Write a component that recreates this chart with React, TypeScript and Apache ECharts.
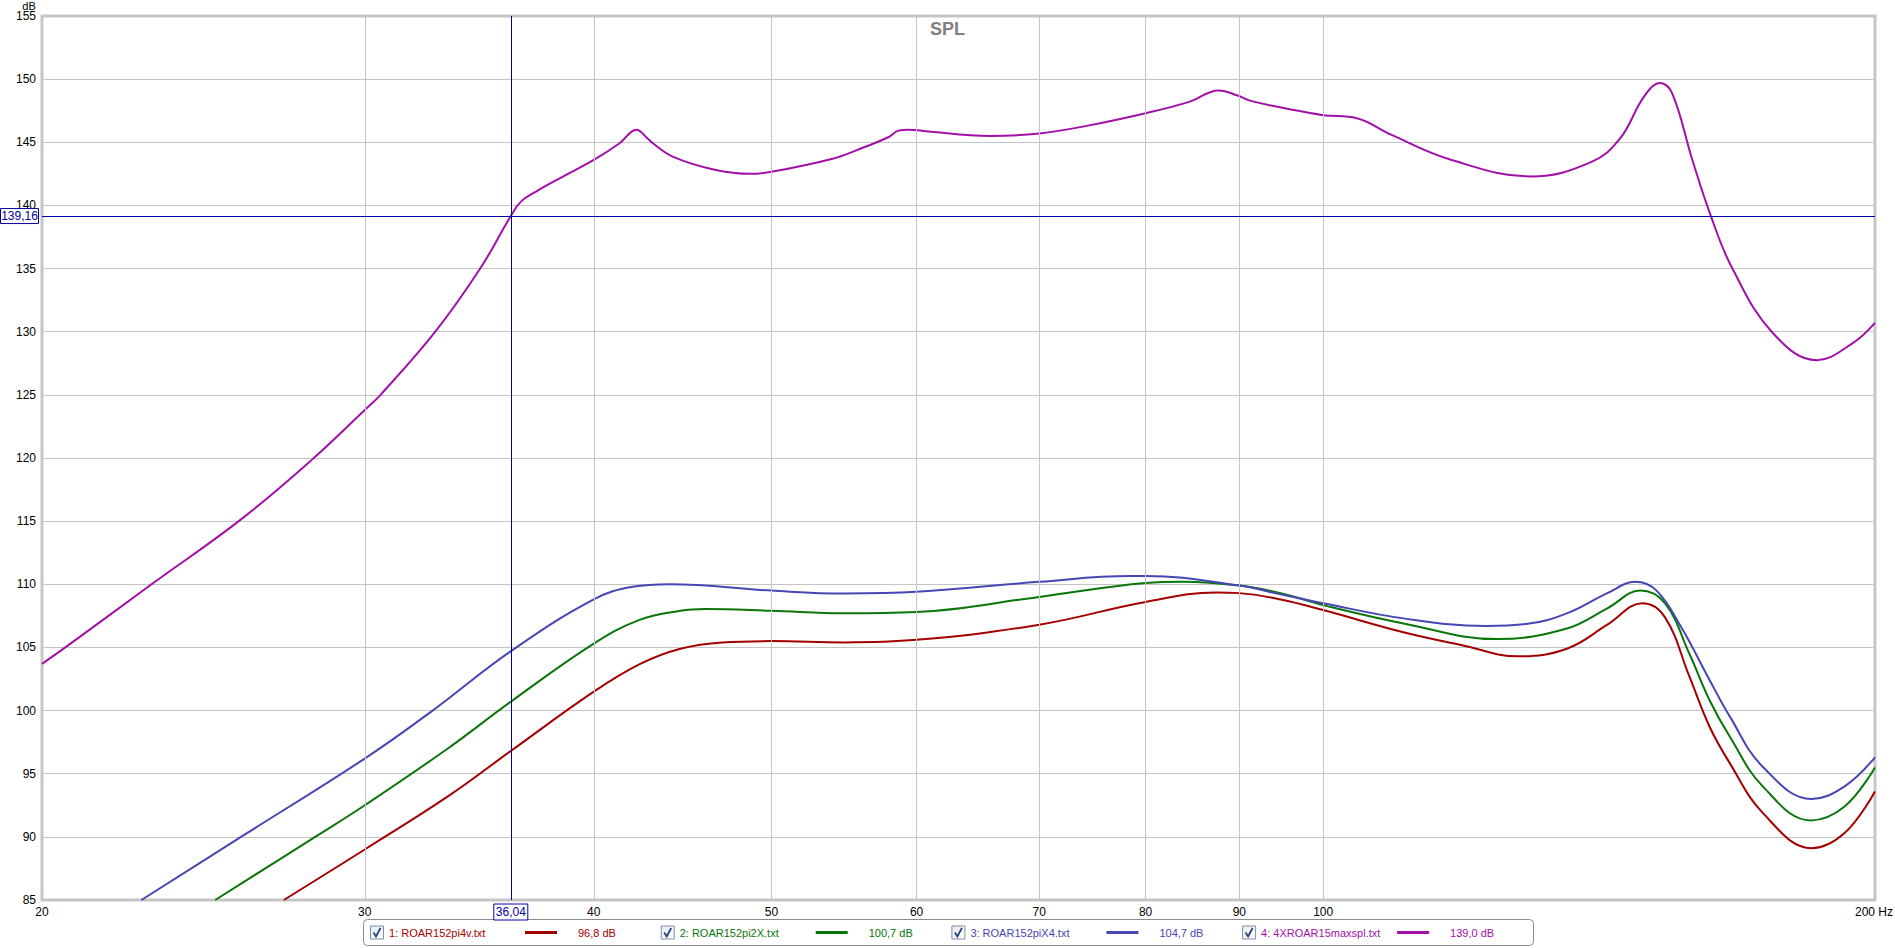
import React, { useEffect, useRef } from "react";
import * as echarts from "echarts";

// ---- data ----
const FREQ_RED = [27.1, 30, 33.3, 36.04, 40, 42.4, 44.6, 47, 50, 54.8, 60, 70, 80, 87.4, 90, 94.8, 100, 110.6, 118.9, 127.7, 135.8, 142.9, 149.3, 153.6, 158.4, 162.5, 166.7, 173.7, 184.7, 192.5, 200];
const SPL_RED = [85, 89.0, 93.2, 96.8, 101.5, 103.7, 104.9, 105.4, 105.5, 105.4, 105.6, 106.8, 108.6, 109.35, 109.3, 108.8, 107.96, 106.2, 105.2, 104.3, 104.9, 106.8, 108.5, 107.4, 102.7, 98.7, 95.8, 91.9, 89.1, 90.3, 93.6];

const FREQ_GREEN = [24.86, 28.3, 30, 33.3, 36.04, 40, 42.4, 44.6, 46.0, 50, 54.8, 60, 70, 80, 83.9, 90, 94.8, 100, 110.6, 124.5, 135.8, 142.9, 148.9, 153.6, 158.4, 162.5, 166.7, 173.7, 184.5, 192.5, 200];
const SPL_GREEN = [85, 90.15, 92.5, 97.0, 100.7, 105.3, 107.2, 107.9, 108.04, 107.9, 107.7, 107.8, 109.0, 110.1, 110.2, 109.9, 109.3, 108.35, 106.9, 105.66, 106.5, 108.1, 109.5, 108.5, 104.5, 100.8, 97.9, 94.0, 91.3, 92.4, 95.5];

const FREQ_BLUE = [22.66, 25.78, 30, 32.6, 36.04, 40, 42.0, 44.0, 50, 54.8, 60, 70, 78.5, 80, 90, 94.8, 100, 110.6, 122.6, 129.0, 135.8, 142.9, 148.0, 152.0, 156.8, 162.5, 166.7, 173.7, 184.7, 192.5, 200];
const SPL_BLUE = [85, 90.15, 96.2, 99.9, 104.7, 108.8, 109.8, 110.0, 109.5, 109.27, 109.4, 110.2, 110.65, 110.65, 109.9, 109.2, 108.5, 107.3, 106.7, 106.85, 107.7, 109.3, 110.2, 109.5, 106.6, 102.4, 99.5, 95.55, 93.0, 94.0, 96.3];

const FREQ_PURPLE = [20, 20.64, 23.0, 25.66, 28.14, 30, 30.6, 32.78, 34.68, 36.04, 36.5, 37.2, 38.5, 40, 41.3, 42.2, 42.8, 43.1, 44.2, 46.5, 48.7, 50, 54.0, 55.7, 57.9, 58.6, 59.4, 60.5, 65.8, 70, 74.3, 80, 84.5, 87.7, 89.8, 91.2, 96.0, 100, 104.3, 108.9, 117.5, 129.9, 140.1, 145.2, 149.6, 152.7, 155.0, 159.0, 162.7, 167.2, 175.9, 185.9, 194.5, 200];
const SPL_PURPLE = [103.7, 105.1, 110.1, 115.1, 120.0, 123.8, 125.0, 130.0, 135.0, 139.16, 140.3, 141.1, 142.3, 143.6, 144.9, 146.0, 145.3, 144.9, 143.85, 142.85, 142.5, 142.66, 143.7, 144.4, 145.4, 145.9, 146.0, 145.9, 145.5, 145.7, 146.3, 147.3, 148.2, 149.1, 148.7, 148.3, 147.6, 147.15, 146.9, 145.6, 143.6, 142.3, 143.45, 145.3, 148.6, 149.7, 148.9, 143.6, 139.2, 135.0, 129.9, 127.75, 129.1, 130.7];

const X_GRID = [30, 40, 50, 60, 70, 80, 90, 100];
const X_LABELS = [20, 30, 40, 50, 60, 70, 80, 90, 100, 200];
const CURSOR_F = 36.04;
const CURSOR_DB = 139.16;
const CURSOR_F_TEXT = "36,04";
const CURSOR_DB_TEXT = "139,16";

const LEGEND_NAMES = ["1: ROAR152pi4v.txt", "2: ROAR152pi2X.txt", "3: ROAR152piX4.txt", "4: 4XROAR15maxspl.txt"];
const LEGEND_VALUES = ["96,8 dB", "100,7 dB", "104,7 dB", "139,0 dB"];
const COLORS = ["#A40000", "#0A760A", "#4646B4", "#A210A8"];
const CURSOR_COLOR = "#0000A8";
const FONT = "'Liberation Sans', Arial, sans-serif";

function pairs(f: number[], v: number[]) {
  return f.map((x, i) => [x, v[i]]);
}

export default function App() {
  const ref = useRef<HTMLDivElement>(null);
  useEffect(() => {
    document.body.style.margin = "0";
    const chart = echarts.init(ref.current!, null, { renderer: "svg" });
    const curve = (name: string, data: number[][], color: string) => ({
      name,
      type: "line",
      data,
      showSymbol: false,
      symbol: "none",
      smooth: 0.4,
      z: 3,
      silent: true,
      lineStyle: { color, width: 2 },
      itemStyle: { color },
    });
    chart.setOption({
      animation: false,
      backgroundColor: "#ffffff",
      title: {
        text: "SPL",
        left: "center",
        top: 15,
        textStyle: { color: "#808080", fontSize: 18, fontWeight: "bold", fontFamily: FONT },
      },
      grid: {
        left: 42,
        right: 20,
        top: 16,
        bottom: 48,
        show: true,
        borderColor: "#C6C6C6",
        borderWidth: 3,
        backgroundColor: "#ffffff",
      },
      xAxis: {
        type: "log",
        logBase: 10,
        min: 20,
        max: 200,
        axisLine: { show: false },
        axisTick: { show: false },
        axisLabel: { show: false },
        splitLine: { show: false },
      },
      yAxis: {
        type: "value",
        min: 85,
        max: 155,
        interval: 5,
        axisLine: { show: false },
        axisTick: { show: false },
        axisLabel: { color: "#000", fontSize: 12, fontFamily: FONT, margin: 6 },
        splitLine: { lineStyle: { color: "#C4C4C4", width: 1 } },
      },
      series: [
        {
          name: "gridX",
          type: "line",
          data: [[20, 85]],
          showSymbol: false,
          symbol: "none",
          silent: true,
          z: 1,
          markLine: {
            silent: true,
            symbol: ["none", "none"],
            label: { show: false },
            lineStyle: { color: "#C4C4C4", width: 1, type: "solid" },
            data: X_GRID.map((v) => ({ xAxis: v })),
          },
        },
        {
          name: "cursor",
          type: "line",
          data: [[20, 85]],
          showSymbol: false,
          symbol: "none",
          silent: true,
          z: 2,
          markLine: {
            silent: true,
            symbol: ["none", "none"],
            label: { show: false },
            lineStyle: { color: CURSOR_COLOR, width: 1, type: "solid" },
            data: [{ xAxis: CURSOR_F }, { yAxis: CURSOR_DB }],
          },
        },
        curve(LEGEND_NAMES[0], pairs(FREQ_RED, SPL_RED), COLORS[0]),
        curve(LEGEND_NAMES[1], pairs(FREQ_GREEN, SPL_GREEN), COLORS[1]),
        curve(LEGEND_NAMES[2], pairs(FREQ_BLUE, SPL_BLUE), COLORS[2]),
        curve(LEGEND_NAMES[3], pairs(FREQ_PURPLE, SPL_PURPLE), COLORS[3]),
      ],
    });

    const px = (f: number) => chart.convertToPixel({ xAxisIndex: 0 }, f) as number;
    const py = (v: number) => chart.convertToPixel({ yAxisIndex: 0 }, v) as number;
    const bottomY = py(85);
    const labelY = bottomY + 12;
    const txt = (text: string, x: number, y: number, fill: string, size: number, align = "center", z = 10) => ({
      type: "text",
      z,
      silent: true,
      style: {
        text,
        x,
        y,
        fill,
        font: `${size}px ${FONT}`,
        textAlign: align,
        align,
        textVerticalAlign: "middle",
        verticalAlign: "middle",
      },
    });
    const g: any[] = [];
    // dB unit
    g.push(txt("dB", 29, 6, "#000", 11, "center"));
    // x labels
    X_LABELS.forEach((f) => {
      if (f === 200) g.push(txt("200 Hz", 1893, labelY, "#000", 12, "right"));
      else g.push(txt(String(f), px(f), labelY, "#000", 12, "center"));
    });
    // cursor boxes
    const cx = px(CURSOR_F);
    g.push({
      type: "rect",
      z: 11,
      silent: true,
      shape: { x: cx - 17, y: labelY - 8, width: 34, height: 16 },
      style: { fill: "#fff", stroke: CURSOR_COLOR, lineWidth: 1 },
    });
    g.push(txt(CURSOR_F_TEXT, cx, labelY, CURSOR_COLOR, 12, "center", 12));
    const cy = py(CURSOR_DB);
    g.push({
      type: "rect",
      z: 11,
      silent: true,
      shape: { x: 0.5, y: cy - 7.5, width: 38, height: 15 },
      style: { fill: "#fff", stroke: CURSOR_COLOR, lineWidth: 1 },
    });
    g.push(txt(CURSOR_DB_TEXT, 19.5, cy, CURSOR_COLOR, 12, "center", 12));
    // legend box
    g.push({
      type: "rect",
      z: 10,
      silent: true,
      shape: { x: 363.5, y: 919.5, width: 1170, height: 26, r: 4 },
      style: { fill: "#fff", stroke: "#8C8C8C", lineWidth: 1 },
    });
    const midY = 932.5;
    LEGEND_NAMES.forEach((name, i) => {
      const x0 = 370 + i * 290.7;
      g.push({
        type: "rect",
        z: 11,
        silent: true,
        shape: { x: x0 + 0.5, y: midY - 6.5, width: 13, height: 13 },
        style: {
          fill: new echarts.graphic.LinearGradient(0, 0, 1, 1, [
            { offset: 0, color: "#E6EAF2" },
            { offset: 1, color: "#FFFFFF" },
          ]),
          stroke: "#7E8FA6",
          lineWidth: 1,
        },
      });
      g.push({
        type: "polyline",
        z: 12,
        silent: true,
        shape: { points: [[x0 + 3.5, midY], [x0 + 6, midY + 4], [x0 + 10.5, midY - 4.5]] },
        style: { stroke: "#27457A", lineWidth: 1.8, fill: "none" },
      });
      g.push(txt(name, x0 + 19, midY, COLORS[i], 11, "left", 12));
      g.push({
        type: "line",
        z: 12,
        silent: true,
        shape: { x1: x0 + 155, y1: midY, x2: x0 + 187, y2: midY },
        style: { stroke: COLORS[i], lineWidth: 3 },
      });
      g.push(txt(LEGEND_VALUES[i], x0 + 208, midY, COLORS[i], 11, "left", 12));
    });
    chart.setOption({ graphic: g });

    return () => chart.dispose();
  }, []);
  return <div ref={ref} style={{ width: 1895, height: 948 }} />;
}
